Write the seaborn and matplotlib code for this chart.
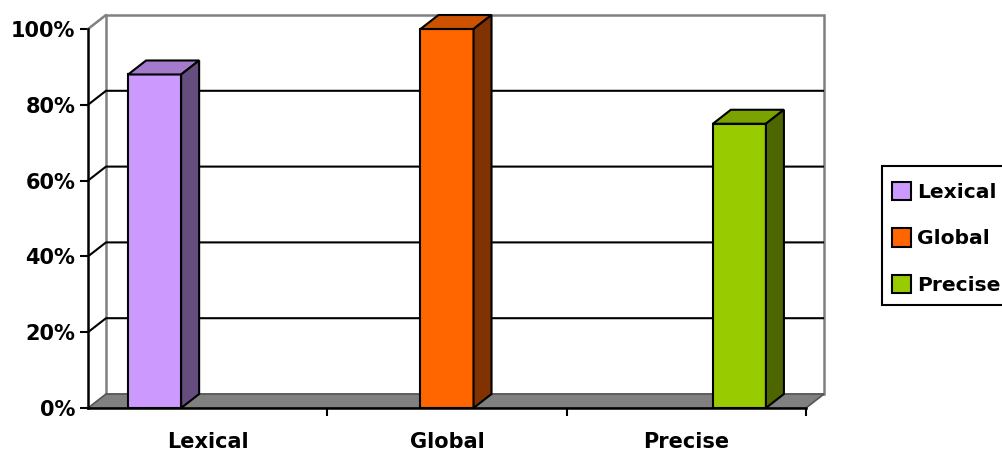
import numpy as np
import pandas as pd
import matplotlib
matplotlib.use("Agg")
import matplotlib.pyplot as plt
from matplotlib.patches import Polygon, Rectangle
import seaborn as sns

# Chart data
categories = ["Lexical", "Global", "Precise"]
values = [0.88, 1.00, 0.75]
colors = ["#CC99FF", "#FF6600", "#99CC00"]
y_ticks = [0.0, 0.2, 0.4, 0.6, 0.8, 1.0]
y_labels = ["0%", "20%", "40%", "60%", "80%", "100%"]

df = pd.DataFrame({"category": categories, "series": categories, "value": values})

sns.set_theme(style="white")
plt.rcParams["font.family"] = ["DejaVu Sans"]
plt.rcParams["font.weight"] = "bold"
plt.rcParams["text.color"] = "black"
FS = 15

W, H = 1003, 454
fig = plt.figure(figsize=(W / 100, H / 100), dpi=100)
fig.patch.set_facecolor("white")
# front plane of the 3-D box
ax = fig.add_axes([88 / W, (H - 408) / H, 718 / W, 379 / H])
ax.patch.set_visible(False)

sns.barplot(data=df, x="category", y="value", hue="series",
            order=categories, hue_order=categories, palette=colors,
            width=0.665, dodge=True, gap=0, saturation=1, errorbar=None,
            edgecolor="black", linewidth=1.5, legend=False, ax=ax, zorder=6)

x0, x1 = -0.5, 2.5
ax.set_xlim(x0, x1)
ax.set_ylim(0, 1)

# depth of the box expressed in data units (18 px right, 14 px up)
dx = 18 * (x1 - x0) / 718
dy = 14 / 379

wall_grey = "#808080"
# back wall
ax.add_patch(Polygon([(x0 + dx, dy), (x1 + dx, dy), (x1 + dx, 1 + dy), (x0 + dx, 1 + dy)],
                     closed=True, facecolor="white", edgecolor=wall_grey, lw=1.8,
                     clip_on=False, zorder=1))
ax.plot([x0, x0 + dx], [1, 1 + dy], color=wall_grey, lw=1.8, clip_on=False, zorder=1)
# gridlines running along the side wall and across the back wall
for t in y_ticks[1:-1]:
    ax.plot([x0, x0 + dx, x1 + dx], [t, t + dy, t + dy], color="black", lw=1.5,
            clip_on=False, zorder=2, solid_capstyle="butt")
# floor
ax.add_patch(Polygon([(x0, 0), (x1, 0), (x1 + dx, dy), (x0 + dx, dy)], closed=True,
                     facecolor=wall_grey, edgecolor="#555555", lw=1.2,
                     clip_on=False, zorder=3))

# extrude each bar: top and side faces
for bar in list(ax.patches):
    if not isinstance(bar, Rectangle) or bar.get_height() <= 0 or bar.get_width() <= 0:
        continue
    bx, bw, bh = bar.get_x(), bar.get_width(), bar.get_height()
    base = np.array(bar.get_facecolor()[:3])
    bar.set_clip_on(False)
    top = Polygon([(bx, bh), (bx + bw, bh), (bx + bw + dx, bh + dy), (bx + dx, bh + dy)],
                  closed=True, facecolor=base * 0.8, edgecolor="black", lw=1.5,
                  clip_on=False, zorder=6, joinstyle="miter")
    side = Polygon([(bx + bw, 0), (bx + bw + dx, dy), (bx + bw + dx, bh + dy), (bx + bw, bh)],
                   closed=True, facecolor=base * 0.5, edgecolor="black", lw=1.5,
                   clip_on=False, zorder=6, joinstyle="miter")
    ax.add_patch(top)
    ax.add_patch(side)

# axes lines
for s in ["top", "right"]:
    ax.spines[s].set_visible(False)
for s in ["left", "bottom"]:
    ax.spines[s].set_visible(True)
    ax.spines[s].set_color("black")
    ax.spines[s].set_linewidth(1.8)
    ax.spines[s].set_zorder(7)

ax.set_yticks(y_ticks)
ax.set_yticklabels(y_labels)
ax.set_xticks(range(len(categories)))
ax.set_xticklabels(categories)
ax.set_xticks([0.5, 1.5, 2.5], minor=True)
ax.tick_params(axis="y", which="major", direction="out", length=6, width=1.5,
               color="black", left=True, labelsize=FS, pad=3, labelcolor="black")
ax.tick_params(axis="x", which="major", length=0, labelsize=FS, pad=17,
               labelcolor="black")
ax.tick_params(axis="x", which="minor", direction="out", length=6, width=1.5,
               color="black", bottom=True)
for lab in ax.get_xticklabels() + ax.get_yticklabels():
    lab.set_fontweight("bold")
ax.set_xlabel("")
ax.set_ylabel("")
ax.grid(False)

# legend box (runs off the right edge of the figure)
fig.patches.append(Rectangle((882 / W, (H - 305) / H), 140 / W, 139 / H,
                             transform=fig.transFigure, facecolor="white",
                             edgecolor="black", lw=1.5, zorder=8))
handles = [Rectangle((0, 0), 1, 1, facecolor=c, edgecolor="black", lw=1.5) for c in colors]
leg = fig.legend(handles, categories, loc="upper left",
                 bbox_to_anchor=(892 / W, (H - 182) / H), bbox_transform=fig.transFigure,
                 frameon=False, fontsize=14.6, handlelength=0.95,
                 handleheight=1.0, handletextpad=0.28, labelspacing=1.3,
                 borderpad=0, borderaxespad=0, labelcolor="black")
leg.set_zorder(9)
for txt in leg.get_texts():
    txt.set_fontweight("bold")

fig.savefig("out.png", dpi=100)
